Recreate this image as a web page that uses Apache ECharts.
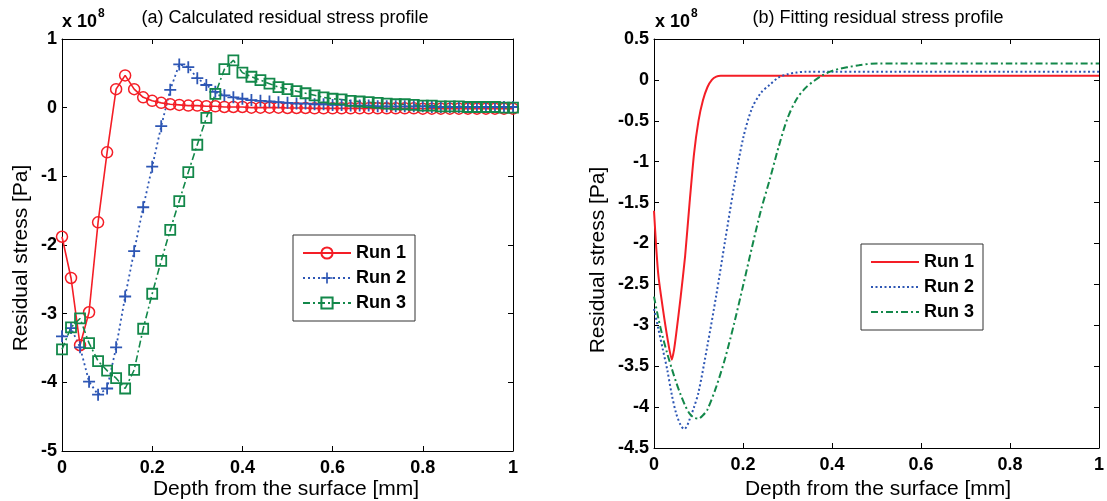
<!DOCTYPE html>
<html><head><meta charset="utf-8">
<script src="https://cdn.jsdelivr.net/npm/echarts@6/dist/echarts.min.js"></script>
<style>html,body{margin:0;padding:0;background:#fff}#c{width:1107px;height:501px}</style>
</head><body><div id="c"></div>
<script>
// ---------- data: (a) calculated residual stress, x 1e8 Pa ----------
const depth = [0,0.02,0.04,0.06,0.08,0.1,0.12,0.14,0.16,0.18,0.2,0.22,0.24,0.26,0.28,0.3,0.32,0.34,0.36,0.38,0.4,0.42,0.44,0.46,0.48,0.5,0.52,0.54,0.56,0.58,0.6,0.62,0.64,0.66,0.68,0.7,0.72,0.74,0.76,0.78,0.8,0.82,0.84,0.86,0.88,0.9,0.92,0.94,0.96,0.98,1];
const calcRun1 = [-1.88,-2.48,-3.46,-2.98,-1.67,-0.65,0.27,0.47,0.27,0.15,0.10,0.07,0.05,0.04,0.03,0.03,0.02,0.02,0.01,0.01,0.01,0.0,0.0,0.0,0.0,-0.005,-0.005,-0.005,-0.01,-0.01,-0.01,-0.01,-0.01,-0.01,-0.01,-0.01,-0.01,-0.01,-0.01,-0.01,-0.015,-0.015,-0.015,-0.015,-0.015,-0.015,-0.015,-0.015,-0.015,-0.015,-0.015];
const calcRun2 = [-3.33,-3.21,-3.49,-3.99,-4.18,-4.09,-3.49,-2.75,-2.09,-1.45,-0.86,-0.27,0.26,0.63,0.59,0.43,0.33,0.23,0.18,0.15,0.13,0.11,0.10,0.09,0.08,0.07,0.06,0.06,0.05,0.05,0.04,0.04,0.03,0.03,0.03,0.02,0.02,0.02,0.02,0.02,0.02,0.01,0.01,0.01,0.01,0.01,0.01,0.01,0.01,0.01,0.01];
const calcRun3 = [-3.52,-3.20,-3.07,-3.43,-3.69,-3.83,-3.94,-4.09,-3.82,-3.22,-2.71,-2.23,-1.78,-1.36,-0.94,-0.54,-0.15,0.20,0.56,0.69,0.51,0.45,0.40,0.35,0.30,0.27,0.24,0.21,0.18,0.15,0.13,0.12,0.10,0.09,0.08,0.07,0.06,0.05,0.05,0.04,0.03,0.03,0.02,0.02,0.02,0.01,0.01,0.01,0.01,0.0,0.0];

// ---------- data: (b) fitted residual stress, x 1e8 Pa ----------
const fitDepth1 = [0,0.005,0.01,0.02,0.03,0.04,0.045,0.05,0.06,0.07,0.08,0.09,0.1,0.11,0.12,0.13,0.14,0.15,0.16,0.2,0.4,0.6,0.8,1];
const fitRun1   = [-1.6,-2.05,-2.4,-2.8,-3.15,-3.42,-3.3,-3.1,-2.65,-2.15,-1.5,-0.9,-0.5,-0.25,-0.09,0.0,0.04,0.05,0.05,0.05,0.05,0.05,0.05,0.05];
const fitDepth2 = [0,0.01,0.02,0.03,0.04,0.05,0.06,0.068,0.075,0.08,0.09,0.1,0.12,0.14,0.16,0.18,0.2,0.22,0.24,0.26,0.28,0.3,0.32,0.34,0.4,0.6,0.8,1];
const fitRun2   = [-2.8,-3.05,-3.3,-3.55,-3.85,-4.08,-4.22,-4.27,-4.22,-4.15,-4.0,-3.82,-3.25,-2.63,-1.96,-1.3,-0.72,-0.35,-0.16,-0.06,0.03,0.07,0.09,0.1,0.1,0.1,0.1,0.1];
const fitDepth3 = [0,0.01,0.02,0.03,0.04,0.05,0.06,0.07,0.08,0.09,0.1,0.11,0.12,0.14,0.16,0.18,0.2,0.22,0.24,0.26,0.28,0.3,0.32,0.34,0.36,0.38,0.4,0.42,0.44,0.46,0.5,0.6,0.8,1];
const fitRun3   = [-2.65,-2.92,-3.15,-3.35,-3.53,-3.7,-3.85,-3.98,-4.08,-4.13,-4.14,-4.1,-4.03,-3.75,-3.4,-2.98,-2.52,-2.05,-1.6,-1.22,-0.82,-0.47,-0.24,-0.1,-0.01,0.06,0.11,0.14,0.16,0.18,0.2,0.2,0.2,0.2];

const runNames = ['Run 1','Run 2','Run 3'];
const fitSuffix = ' (fit)';

// ---------- styling ----------
const FONT = '"Liberation Sans", Arial, sans-serif';
const RED = '#f41e26', BLUE = '#2d56b4', GREEN = '#13884a';
const pair = (xs, ys) => xs.map((x, i) => [x, ys[i]]);
const PLUS = 'path://M4.25,0H5.75V4.25H10V5.75H5.75V10H4.25V5.75H0V4.25H4.25Z';

function xAxes(gi) {
  const base = {gridIndex: gi, type: 'value', min: 0, max: 1, interval: 0.2,
    axisLine: {show: true, onZero: false, lineStyle: {color: '#000', width: 1}},
    axisTick: {show: true, inside: true, length: 5, lineStyle: {color: '#000'}},
    splitLine: {show: false}};
  return [
    Object.assign({}, base, {position: 'bottom',
      axisLabel: {color: '#000', fontWeight: 'bold', fontSize: 18, fontFamily: FONT, margin: 8}}),
    Object.assign({}, base, {position: 'top', axisLabel: {show: false}})
  ];
}
function yAxes(gi, mn, mx, iv) {
  const base = {gridIndex: gi, type: 'value', min: mn, max: mx, interval: iv,
    axisLine: {show: true, onZero: false, lineStyle: {color: '#000', width: 1}},
    axisTick: {show: true, inside: true, length: 5, lineStyle: {color: '#000'}},
    splitLine: {show: false}};
  return [
    Object.assign({}, base, {position: 'left',
      axisLabel: {color: '#000', fontWeight: 'bold', fontSize: 18, fontFamily: FONT, margin: 5}}),
    Object.assign({}, base, {position: 'right', axisLabel: {show: false}})
  ];
}

const legendBase = {orient: 'vertical', itemWidth: 48, itemHeight: 14, itemGap: 7,
  borderColor: '#333', borderWidth: 1, backgroundColor: '#fff', selectedMode: false,
  textStyle: {fontSize: 18, fontWeight: 'bold', fontFamily: FONT, color: '#000', lineHeight: 18}};

const option = {
  animation: false,
  backgroundColor: '#fff',
  grid: [
    {left: 62, top: 39, width: 451, height: 412},
    {left: 654, top: 39, width: 449, height: 409}
  ],
  xAxis: [...xAxes(0), ...xAxes(1)],
  yAxis: [...yAxes(0, -5, 1, 1), ...yAxes(1, -4.5, 0.5, 0.5)],
  legend: [
    Object.assign({}, legendBase, {data: runNames, left: 293, top: 235, padding: [9, 9, 9, 9]}),
    Object.assign({}, legendBase, {data: runNames.map(n => n + fitSuffix), left: 861, top: 244,
      padding: [9, 9, 9, 9], formatter: n => n.replace(fitSuffix, ''),
      itemStyle: {opacity: 0}})
  ],
  series: [
    {name: runNames[0], type: 'line', xAxisIndex: 0, yAxisIndex: 0, data: pair(depth, calcRun1),
      symbol: 'circle', symbolSize: 11,
      itemStyle: {color: 'rgba(255,255,255,0)', borderColor: RED, borderWidth: 1.5},
      lineStyle: {color: RED, width: 1.6, type: 'solid'}},
    {name: runNames[1], type: 'line', xAxisIndex: 0, yAxisIndex: 0, data: pair(depth, calcRun2),
      symbol: PLUS, symbolSize: 12,
      itemStyle: {color: BLUE, borderWidth: 0},
      lineStyle: {color: BLUE, width: 1.8, type: [2, 3]}},
    {name: runNames[2], type: 'line', xAxisIndex: 0, yAxisIndex: 0, data: pair(depth, calcRun3),
      symbol: 'rect', symbolSize: 10,
      itemStyle: {color: 'rgba(255,255,255,0)', borderColor: GREEN, borderWidth: 1.8},
      lineStyle: {color: GREEN, width: 1.6, type: [7, 3, 2, 3]}},
    {name: runNames[0] + fitSuffix, type: 'line', xAxisIndex: 2, yAxisIndex: 2, data: pair(fitDepth1, fitRun1),
      symbol: 'none', smooth: 0.2, itemStyle: {color: RED},
      lineStyle: {color: RED, width: 2, type: 'solid'}},
    {name: runNames[1] + fitSuffix, type: 'line', xAxisIndex: 2, yAxisIndex: 2, data: pair(fitDepth2, fitRun2),
      symbol: 'none', smooth: 0.3, itemStyle: {color: BLUE},
      lineStyle: {color: BLUE, width: 2, type: [2, 2.5]}},
    {name: runNames[2] + fitSuffix, type: 'line', xAxisIndex: 2, yAxisIndex: 2, data: pair(fitDepth3, fitRun3),
      symbol: 'none', smooth: 0.3, itemStyle: {color: GREEN},
      lineStyle: {color: GREEN, width: 2, type: [7, 3, 2, 3]}}
  ],
  graphic: [
    {type: 'text', x: 285, y: 18, style: {text: '(a) Calculated residual stress profile', fontSize: 18, fontFamily: FONT, fill: '#000', align: 'center', verticalAlign: 'middle'}},
    {type: 'text', x: 878, y: 18, style: {text: '(b) Fitting residual stress profile', fontSize: 18, fontFamily: FONT, fill: '#000', align: 'center', verticalAlign: 'middle'}},
    {type: 'text', x: 62, y: 22, style: {text: 'x 10', fontSize: 18, fontWeight: 'bold', fontFamily: FONT, fill: '#000', align: 'left', verticalAlign: 'middle'}},
    {type: 'text', x: 98, y: 14, style: {text: '8', fontSize: 12, fontWeight: 'bold', fontFamily: FONT, fill: '#000', align: 'left', verticalAlign: 'middle'}},
    {type: 'text', x: 655, y: 22, style: {text: 'x 10', fontSize: 18, fontWeight: 'bold', fontFamily: FONT, fill: '#000', align: 'left', verticalAlign: 'middle'}},
    {type: 'text', x: 691, y: 14, style: {text: '8', fontSize: 12, fontWeight: 'bold', fontFamily: FONT, fill: '#000', align: 'left', verticalAlign: 'middle'}},
    {type: 'text', x: 286, y: 489, style: {text: 'Depth from the surface [mm]', fontSize: 21, fontFamily: FONT, fill: '#000', align: 'center', verticalAlign: 'middle'}},
    {type: 'text', x: 878, y: 489, style: {text: 'Depth from the surface [mm]', fontSize: 21, fontFamily: FONT, fill: '#000', align: 'center', verticalAlign: 'middle'}},
    {type: 'text', x: 21, y: 258, rotation: Math.PI / 2, style: {text: 'Residual stress [Pa]', fontSize: 21, fontFamily: FONT, fill: '#000', align: 'center', verticalAlign: 'middle'}},
    {type: 'text', x: 598, y: 260, rotation: Math.PI / 2, style: {text: 'Residual stress [Pa]', fontSize: 21, fontFamily: FONT, fill: '#000', align: 'center', verticalAlign: 'middle'}}
  ]
};
const chart = echarts.init(document.getElementById('c'), null, {renderer: 'canvas'});
chart.setOption(option);
</script>
</body></html>
